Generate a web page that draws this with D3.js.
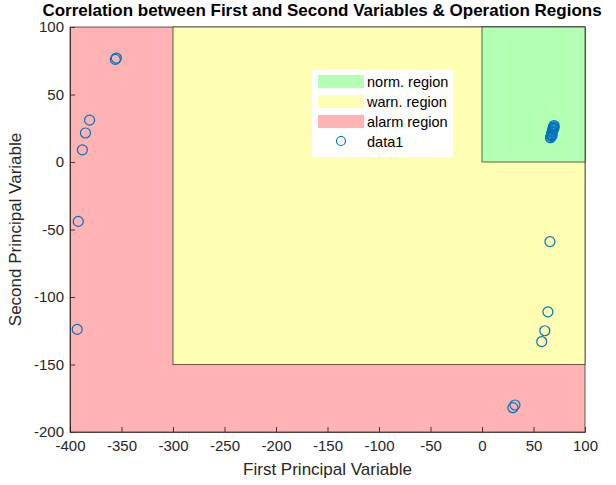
<!DOCTYPE html>
<html>
<head>
<meta charset="utf-8">
<script src="https://d3js.org/d3.v7.min.js"></script>
<style>
  body { margin: 0; background: #fff; }
  text { font-family: "Liberation Sans", Arial, sans-serif; }
</style>
</head>
<body>
<div id="chart"></div>
<script>
// scores on first/second principal variables
const firstVar = [-355, -356, -381, -385, -388, -392, -393,
    66.5, 67, 67.5, 68, 68, 68.5, 69, 69, 69.5, 70, 67.5, 68.5, 69, 70, 68,
    66, 64, 61, 58, 30, 32];
const secondVar = [77, 76, 31, 21.5, 9, -44, -124,
    18, 19, 20, 21, 22, 23, 24, 25, 26, 27, 20.5, 22.5, 24.5, 25.5, 19.5,
    -59, -111, -125, -133, -182, -180];

// operation regions [x0, x1, y0, y1]
const regionNames = ['norm. region', 'warn. region', 'alarm region'];
const regionColors = ['#b3ffb3', '#ffffb3', '#ffb3b3'];
const regionBounds = [[0, 100, 0, 100], [-300, 100, -150, 100], [-400, 100, -200, 100]];

const xTicks = [-400, -350, -300, -250, -200, -150, -100, -50, 0, 50, 100];
const yTicks = [-200, -150, -100, -50, 0, 50, 100];

const width = 616, height = 485;
const margin = { left: 70, right: 31, top: 27, bottom: 53 };

const svg = d3.select('#chart').append('svg')
    .attr('width', width)
    .attr('height', height);

const x = d3.scaleLinear().domain([-400, 100]).range([margin.left, width - margin.right]);
const y = d3.scaleLinear().domain([-200, 100]).range([height - margin.bottom, margin.top]);

// regions, drawn largest first
const order = [2, 1, 0];
svg.selectAll('.region')
    .data(order)
    .enter().append('rect')
    .attr('class', 'region')
    .attr('x', i => x(regionBounds[i][0]))
    .attr('width', i => x(regionBounds[i][1]) - x(regionBounds[i][0]))
    .attr('y', i => y(regionBounds[i][3]))
    .attr('height', i => y(regionBounds[i][2]) - y(regionBounds[i][3]))
    .style('fill', i => regionColors[i])
    .style('stroke', '#000')
    .style('stroke-opacity', 0.6)
    .style('stroke-width', 1);

// axes (plain hyphen minus like the original)
const fmt = d => String(d);
const xAxis = d3.axisBottom(x).tickValues(xTicks).tickFormat(fmt).tickSize(-5).tickPadding(8);
const yAxis = d3.axisLeft(y).tickValues(yTicks).tickFormat(fmt).tickSize(-5).tickPadding(6);

const gx = svg.append('g')
    .attr('transform', `translate(0,${height - margin.bottom})`)
    .call(xAxis);
const gy = svg.append('g')
    .attr('transform', `translate(${margin.left},0)`)
    .call(yAxis);

[gx, gy].forEach(g => {
    g.select('.domain').style('stroke', '#000').style('stroke-opacity', 0.6);
    g.selectAll('.tick line').style('stroke', '#5a2a2a');
    g.selectAll('.tick text')
        .style('font-size', '15px')
        .style('fill', '#262626')
        .style('font-family', '"Liberation Sans", Arial, sans-serif');
});

// data points
svg.selectAll('.pt')
    .data(firstVar.map((v, i) => [v, secondVar[i]]))
    .enter().append('circle')
    .attr('class', 'pt')
    .attr('cx', d => x(d[0]))
    .attr('cy', d => y(d[1]))
    .attr('r', 5)
    .style('fill', 'none')
    .style('stroke', '#0072bd')
    .style('stroke-width', 1.2);

// title and labels
svg.append('text')
    .attr('x', 322)
    .attr('y', 16)
    .attr('text-anchor', 'middle')
    .style('font-size', '17px')
    .style('font-weight', 'bold')
    .style('fill', '#000')
    .text('Correlation between First and Second Variables & Operation Regions');

svg.append('text')
    .attr('x', (margin.left + width - margin.right) / 2)
    .attr('y', 475)
    .attr('text-anchor', 'middle')
    .style('font-size', '17px')
    .style('fill', '#262626')
    .text('First Principal Variable');

svg.append('text')
    .attr('transform', `translate(21,${(margin.top + height - margin.bottom) / 2}) rotate(-90)`)
    .attr('text-anchor', 'middle')
    .style('font-size', '17px')
    .style('fill', '#262626')
    .text('Second Principal Variable');

// legend
const legend = svg.append('g').attr('transform', 'translate(312,70)');
legend.append('rect')
    .attr('width', 141)
    .attr('height', 87)
    .style('fill', '#fff');

regionNames.forEach((name, i) => {
    legend.append('rect')
        .attr('x', 6)
        .attr('y', 5 + i * 20)
        .attr('width', 46)
        .attr('height', 13)
        .style('fill', regionColors[i]);
    legend.append('text')
        .attr('x', 55)
        .attr('y', 17 + i * 20)
        .style('font-size', '14.5px')
        .style('fill', '#000')
        .text(name);
});
legend.append('circle')
    .attr('cx', 29)
    .attr('cy', 71)
    .attr('r', 4.5)
    .style('fill', 'none')
    .style('stroke', '#0072bd')
    .style('stroke-width', 1.2);
legend.append('text')
    .attr('x', 55)
    .attr('y', 77)
    .style('font-size', '14.5px')
    .style('fill', '#000')
    .text('data1');
</script>
</body>
</html>
